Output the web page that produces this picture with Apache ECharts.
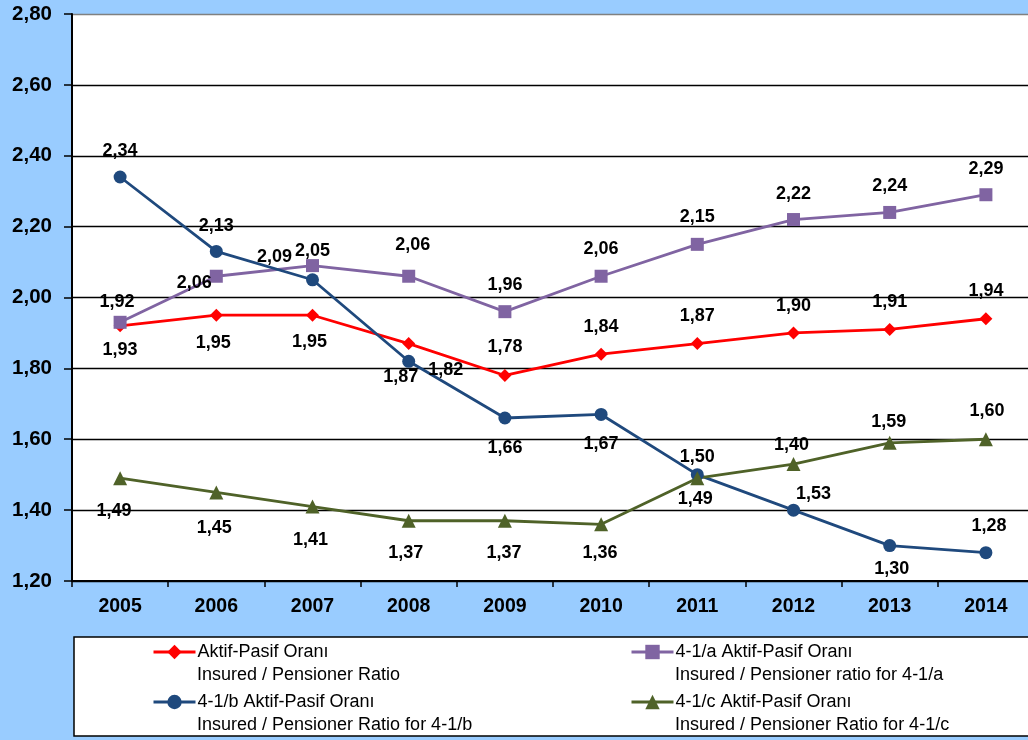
<!DOCTYPE html>
<html>
<head>
<meta charset="utf-8">
<script src="https://cdn.jsdelivr.net/npm/echarts@6/dist/echarts.min.js"></script>
<style>
  html, body { margin: 0; padding: 0; background: #99CCFF; }
  #chart { width: 1028px; height: 740px; }
</style>
</head>
<body>
<div id="chart"></div>
<script>
// yıllar ve oran serileri
const years = ["2005", "2006", "2007", "2008", "2009", "2010", "2011", "2012", "2013", "2014"];
const ratioAll = [1.92, 1.95, 1.95, 1.87, 1.78, 1.84, 1.87, 1.90, 1.91, 1.94];
const ratioA = [1.93, 2.06, 2.09, 2.06, 1.96, 2.06, 2.15, 2.22, 2.24, 2.29];
const ratioB = [2.34, 2.13, 2.05, 1.82, 1.66, 1.67, 1.50, 1.40, 1.30, 1.28];
const ratioC = [1.49, 1.45, 1.41, 1.37, 1.37, 1.36, 1.49, 1.53, 1.59, 1.60];
// grafikte yazılı etiketler (kaynakta bazıları yer değiştirmiş)
const labelsAll = ["1,93", "1,95", "1,95", "1,87", "1,78", "1,84", "1,87", "1,90", "1,91", "1,94"];
const labelsA = ["1,92", "2,06", "2,09", "2,06", "1,96", "2,06", "2,15", "2,22", "2,24", "2,29"];
const labelsB = ["2,34", "2,13", "2,05", "1,82", "1,66", "1,67", "1,50", "1,53", "1,30", "1,28"];
const labelsC = ["1,49", "1,45", "1,41", "1,37", "1,37", "1,36", "1,49", "1,40", "1,59", "1,60"];
const yTicks = [1.2, 1.4, 1.6, 1.8, 2.0, 2.2, 2.4, 2.6, 2.8];

const names = [
  ["Aktif-Pasif Oranı", "Insured / Pensioner Ratio"],
  ["4-1/a Aktif-Pasif Oranı", "Insured / Pensioner ratio for 4-1/a"],
  ["4-1/b Aktif-Pasif Oranı", "Insured / Pensioner Ratio for 4-1/b"],
  ["4-1/c Aktif-Pasif Oranı", "Insured / Pensioner Ratio for 4-1/c"]
];

// etiket kaydırmaları (nokta merkezine göre, px)
const offAll = [[0, 24], [-3, 28], [-3, 27], [-8, 33], [0, -28], [0, -27], [0, -28], [0, -27], [0, -27], [0, -28]];
const offA = [[-3, -20], [-22, 7], [-38, -9], [4, -31], [0, -27], [0, -27], [0, -27], [0, -26], [0, -26], [0, -26]];
const offB = [[0, -26], [0, -25], [0, -29], [37, 9], [0, 30], [0, 30], [0, -18], [20, -16], [2, 23], [3, -27]];
const offC = [[-6, 33], [-2, 36], [-2, 33], [-3, 32], [-1, 32], [-1, 29], [-2, 21], [-2, -19], [-1, -21], [1, -28]];

const FONT = "Liberation Sans, Arial, sans-serif";
const fmt = (v) => v.toFixed(2).replace(".", ",");

function buildSeries(name, values, labels, offs, color, symbol, size) {
  return {
    name: name,
    type: "line",
    data: values.map((v, i) => ({
      value: v,
      label: { offset: offs[i], formatter: labels[i] }
    })),
    symbol: symbol,
    symbolSize: size,
    lineStyle: { color: color, width: 2.8 },
    itemStyle: { color: color },
    label: {
      show: true,
      position: "inside",
      fontFamily: FONT,
      fontSize: 18,
      fontWeight: "bold",
      color: "#000"
    },
    emphasis: { disabled: true },
    z: 3
  };
}

const legendPos = [[152, 642], [630, 642], [152, 692], [630, 692]];

const chart = echarts.init(document.getElementById("chart"), null, { renderer: "canvas" });
chart.setOption({
  backgroundColor: "#99CCFF",
  animation: false,
  textStyle: { fontFamily: FONT },
  grid: {
    left: 72, width: 962, top: 14, bottom: 159,
    outerBoundsMode: "none",
    show: true, backgroundColor: "#ffffff", borderWidth: 0
  },
  xAxis: {
    type: "category",
    data: years,
    boundaryGap: true,
    axisLine: { lineStyle: { color: "#000", width: 2 } },
    axisTick: { show: true, length: 6, lineStyle: { color: "#000", width: 1.5 } },
    axisLabel: { fontFamily: FONT, fontSize: 19.5, fontWeight: "bold", color: "#000", margin: 16 }
  },
  yAxis: {
    type: "value",
    min: yTicks[0],
    max: yTicks[yTicks.length - 1],
    interval: 0.2,
    axisLine: { show: true, lineStyle: { color: "#000", width: 2 } },
    axisTick: { show: true, length: 8, lineStyle: { color: "#000", width: 1.5 } },
    axisLabel: {
      fontFamily: FONT, fontSize: 20.5, fontWeight: "bold", color: "#000", margin: 20,
      formatter: fmt
    },
    splitLine: {
      show: true,
      lineStyle: {
        color: ["#000", "#000", "#000", "#000", "#000", "#000", "#000", "#000", "#808080"],
        width: 1.4
      }
    }
  },
  legend: names.map((n, i) => ({
    data: [n[0]],
    left: legendPos[i][0],
    top: legendPos[i][1],
    padding: 0,
    itemWidth: 42,
    itemHeight: 18,
    itemGap: 4,
    selectedMode: false,
    lineStyle: { width: 3 },
    textStyle: { fontFamily: FONT, fontSize: 18, color: "#000", lineHeight: 20, padding: [0, 0, 0, -3] }
  })),
  graphic: [
    {
      type: "rect", z: -1,
      shape: { x: 74, y: 637, width: 970, height: 99 },
      style: { fill: "#ffffff", stroke: "#000", lineWidth: 1.5 }
    }
  ].concat(names.map((n, i) => ({
    type: "text",
    left: legendPos[i][0] + 45,
    top: legendPos[i][1] + 24,
    style: { text: n[1], font: "18px " + FONT, fill: "#000" }
  }))),
  series: [
    buildSeries(names[0][0], ratioAll, labelsAll, offAll, "#FF0000", "diamond", 13),
    buildSeries(names[1][0], ratioA, labelsA, offA, "#8064A2", "rect", 13),
    buildSeries(names[2][0], ratioB, labelsB, offB, "#1F497D", "circle", 13),
    buildSeries(names[3][0], ratioC, labelsC, offC, "#4F6228", "triangle", 14)
  ]
});
</script>
</body>
</html>
